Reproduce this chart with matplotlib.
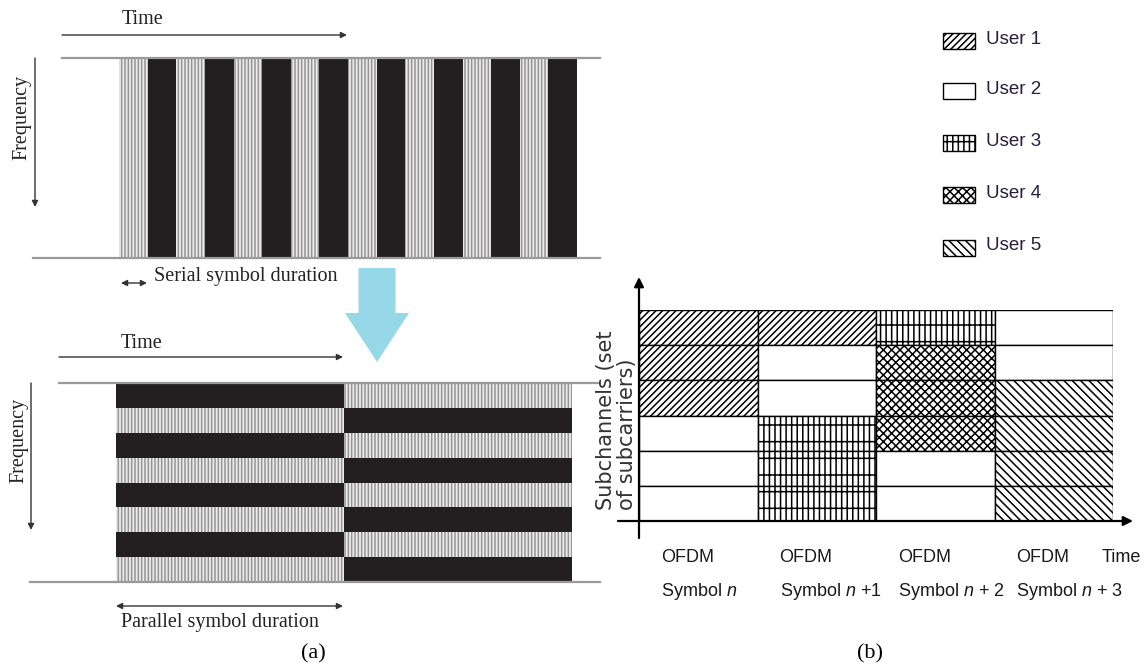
import matplotlib
matplotlib.use('Agg')
import matplotlib.pyplot as plt
from matplotlib import font_manager
from matplotlib.patches import FancyArrow, Rectangle

names = {f.name for f in font_manager.fontManager.ttflist}
NARROW = 'Liberation Sans Narrow' if 'Liberation Sans Narrow' in names else 'Liberation Sans'
SERIF = 'Liberation Serif'

plt.rcParams['hatch.linewidth'] = 1.1
plt.rcParams['mathtext.fontset'] = 'custom'
plt.rcParams['mathtext.rm'] = NARROW
plt.rcParams['mathtext.it'] = NARROW + ':italic'

# ---- data ----
serial_symbols = ['light', 'dark'] * 8
parallel_left = ['dark', 'light'] * 4
parallel_right = ['light', 'dark'] * 4
users = ['User 1', 'User 2', 'User 3', 'User 4', 'User 5']
# subchannel owner per OFDM symbol, top subchannel first
allocation = [
    [1, 1, 1, 2, 2, 2],
    [1, 2, 2, 3, 3, 3],
    [3, 4, 4, 4, 2, 2],
    [2, 2, 5, 5, 5, 5],
]
ofdm_labels = ['Symbol $n$', 'Symbol $n$ +1', 'Symbol $n$ + 2', 'Symbol $n$ + 3']

user_hatch = {1: '/////', 2: '', 3: '|||-', 4: 'xxxx', 5: '\\\\\\\\'}
DARK = '#231f20'
GRAYLINE = '#9a9a9a'
LIGHT_HATCH = '|||||'

W, H = 1144, 669
fig = plt.figure(figsize=(W / 100, H / 100), dpi=100)


def px_axes(x0, y0, x1, y1, z=1):
    a = fig.add_axes([x0 / W, 1 - y1 / H, (x1 - x0) / W, (y1 - y0) / H], zorder=z)
    a.axis('off')
    return a


def stripe(kind):
    if kind == 'dark':
        return dict(color=DARK, linewidth=0)
    return dict(facecolor='#ececec', hatch=LIGHT_HATCH, edgecolor='#959595', linewidth=0)


# serial stream (top of panel a)
ax_s = px_axes(119, 58, 577, 258)
for i, k in enumerate(serial_symbols):
    ax_s.bar(i, 1, width=1, align='edge', **stripe(k))
ax_s.set_xlim(0, len(serial_symbols))
ax_s.set_ylim(0, 1)

# parallel stream (bottom of panel a)
ax_p = px_axes(116, 383, 572, 582)
for col, seq in enumerate([parallel_left, parallel_right]):
    for r, k in enumerate(seq):
        ax_p.barh(r, 1, left=col, height=1, align='edge', **stripe(k))
ax_p.set_xlim(0, 2)
ax_p.set_ylim(len(parallel_left), 0)

# OFDMA allocation (panel b)
ax_b = px_axes(639, 310, 1113, 521)
n_rows = len(allocation[0])
for col, owners in enumerate(allocation):
    for r, u in enumerate(owners):
        ax_b.bar(col, 1, bottom=r, width=1, align='edge', color='white',
                 hatch=user_hatch[u], edgecolor='black', linewidth=1.0)
ax_b.set_xlim(0, len(allocation))
ax_b.set_ylim(n_rows, 0)

# ---- overlay: lines, arrows, text ----
ov = px_axes(0, 0, W, H, z=5)
ov.set_xlim(0, W)
ov.set_ylim(H, 0)

for x0, x1, y in [(62, 600, 58), (33, 600, 258), (59, 600, 383), (30, 600, 582)]:
    ov.plot([x0, x1], [y, y], color=GRAYLINE, lw=1.6)

arr = dict(arrowstyle='-|>', color='#333333', lw=1.0, mutation_scale=9, shrinkA=0, shrinkB=0)
arr2 = dict(arrowstyle='<|-|>', color='#333333', lw=1.0, mutation_scale=9, shrinkA=0, shrinkB=0)
ov.annotate('', xy=(347, 35), xytext=(62, 35), arrowprops=arr)
ov.annotate('', xy=(343, 357), xytext=(59, 357), arrowprops=arr)
ov.annotate('', xy=(35, 207), xytext=(35, 58), arrowprops=arr)
ov.annotate('', xy=(31, 530), xytext=(31, 383), arrowprops=arr)
ov.annotate('', xy=(147, 283), xytext=(121, 283), arrowprops=arr2)
ov.annotate('', xy=(343, 606), xytext=(116, 606), arrowprops=arr2)

serif = dict(family=SERIF, color='#222222', fontsize=14.5)
ov.text(122, 20, 'Time', ha='left', va='center', **serif)
ov.text(121, 343, 'Time', ha='left', va='center', **serif)
ov.text(22, 117, 'Frequency', rotation=90, ha='center', va='center', **serif)
ov.text(19, 440, 'Frequency', rotation=90, ha='center', va='center', **serif)
ov.text(154, 277, 'Serial symbol duration', ha='left', va='center', **serif)
ov.text(121, 622, 'Parallel symbol duration', ha='left', va='center', **serif)

ov.add_patch(FancyArrow(377, 268, 0, 94, width=37, head_width=64, head_length=49,
                        length_includes_head=True, color='#96d7e8', lw=0))

ov.text(313, 654, '(a)', ha='center', va='center', family=SERIF, fontsize=16, color='black')
ov.text(870, 654, '(b)', ha='center', va='center', family=SERIF, fontsize=16, color='black')

# panel b axes
ov.annotate('', xy=(639, 277), xytext=(639, 538),
            arrowprops=dict(arrowstyle='-|>', color='black', lw=1.6, mutation_scale=14,
                            shrinkA=0, shrinkB=0))
ov.annotate('', xy=(1133, 521), xytext=(618, 521),
            arrowprops=dict(arrowstyle='-|>', color='black', lw=1.6, mutation_scale=14,
                            shrinkA=0, shrinkB=0))

sans = dict(family=['DejaVu Sans'], color='#333333', fontsize=15)
ov.text(606, 510, 'Subchannels (set', rotation=90, ha='center', va='bottom', **sans)
ov.text(627, 510, 'of subcarriers)', rotation=90, ha='center', va='bottom', **sans)

narrow = dict(family=[NARROW, 'DejaVu Sans'], color='#1a1a1a', fontsize=13)
col_w = (1113 - 639) / len(allocation)
for i, lab in enumerate(ofdm_labels):
    x = 661 + i * col_w
    ov.text(x, 557, 'OFDM', ha='left', va='center', **narrow)
    ov.text(x, 592, lab, ha='left', va='center', **narrow)
ov.text(1102, 557, 'Time', ha='left', va='center', **narrow)

# legend
legend_y = [41, 91, 143, 195, 248]
for k, (lab, y) in enumerate(zip(users, legend_y), start=1):
    ov.add_patch(Rectangle((943, y - 8), 32, 16, facecolor='white', edgecolor='black',
                           hatch=user_hatch[k], lw=1.0))
    ov.text(986, y - 2, lab, ha='left', va='center', family=[NARROW, 'DejaVu Sans'],
            fontsize=13.5, color='#2a1f3d')

fig.savefig('out.png', dpi=100)
